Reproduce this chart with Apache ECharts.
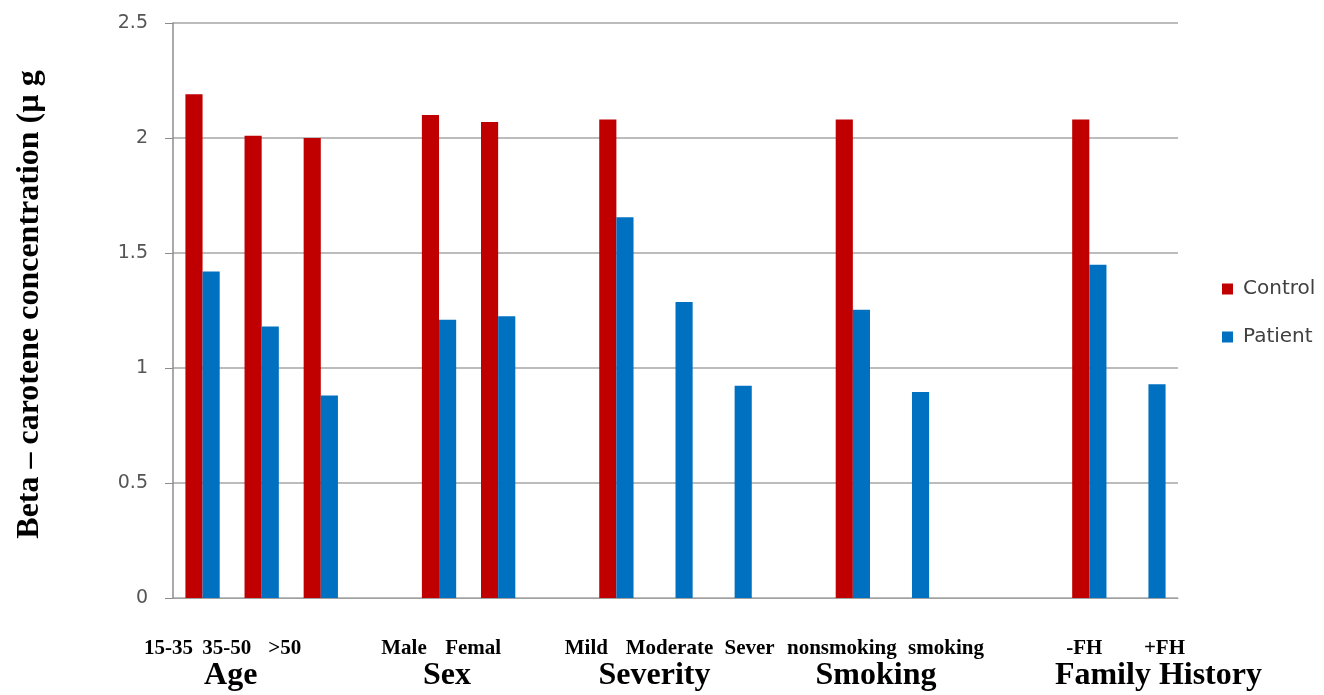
<!DOCTYPE html>
<html><head><meta charset="utf-8">
<script src="https://cdn.jsdelivr.net/npm/echarts@6/dist/echarts.min.js"></script>
<style>html,body{margin:0;padding:0;background:#fff}#c{width:1324px;height:695px}</style>
</head><body><div id="c"></div>
<script>
const categories = ['15-35','35-50','>50','','Male','Femal','','Mild','Moderate','Sever','','nonsmoking','smoking','','','-FH','+FH'];
const groupLabels = ['','Age','','','Sex','','','','Severity','','','','Smoking','','','','Family History'];
const control = [2.19,2.01,2.00,null,2.10,2.07,null,2.08,null,null,null,2.08,null,null,null,2.08,null];
const patient = [1.42,1.18,0.88,null,1.21,1.225,null,1.655,1.287,0.923,null,1.253,0.896,null,null,1.449,0.929];
const seriesNames = ['Control','Patient'];
const yAxisTitle = 'Beta \u2013 carotene concentration (\u00b5 g';

// label layout offsets (px, horizontal) — layout only
const catShift = [-34,-35,-36,0,-35,-25,0,-30,-6,15,0,-11,34,0,0,-5,16];
const groupShift = [0,-31,0,0,8,0,0,0,-21,0,0,0,-36,0,0,0,10];

function richFor(shifts, size){
  const r = {};
  shifts.forEach((s,i)=>{
    r['s'+i] = {
      fontFamily:'Liberation Serif', fontWeight:'bold', fontSize:size, color:'#000',
      padding: s<0 ? [0,-2*s,0,0] : [0,0,0,2*s]
    };
  });
  return r;
}

const chart = echarts.init(document.getElementById('c'));
chart.setOption({
  animation:false,
  backgroundColor:'#fff',
  grid:{left:173,right:146,top:23,bottom:97,containLabel:false,outerBoundsMode:'none'},
  legend:{
    orient:'vertical', left:1217, top:274, itemWidth:11, itemHeight:11, itemGap:28,
    icon:'rect',
    textStyle:{fontFamily:'DejaVu Sans', fontSize:20, color:'#404040', padding:[0,0,0,5]},
    data:seriesNames
  },
  xAxis:[{
    type:'category', data:categories,
    axisLine:{show:true, lineStyle:{color:'#a0a0a0', width:1}},
    axisTick:{show:false},
    axisLabel:{interval:0, margin:40,
      formatter:(v,i)=> v ? '{s'+i+'|'+v+'}' : '',
      rich:richFor(catShift,21)}
  },{
    type:'category', data:categories, position:'bottom',
    axisLine:{show:false}, axisTick:{show:false}, splitLine:{show:false},
    axisLabel:{interval:0, margin:62,
      formatter:(v,i)=> groupLabels[i] ? '{s'+i+'|'+groupLabels[i]+'}' : '',
      rich:richFor(groupShift,32)}
  }],
  yAxis:{
    type:'value', min:0, max:2.5, interval:0.5,
    name:yAxisTitle, nameLocation:'middle', nameGap:127,
    nameTextStyle:{fontFamily:'Liberation Serif', fontWeight:'bold', fontSize:32, color:'#000', padding:[0,0,0,12]},
    axisLine:{show:true, lineStyle:{color:'#8c8c8c', width:1.5}},
    axisTick:{show:true, length:8, lineStyle:{color:'#8c8c8c'}},
    axisLabel:{margin:25, fontFamily:'DejaVu Sans', fontSize:19, color:'#555'},
    splitLine:{show:true, lineStyle:{color:'#a6a6a6', width:1.5}}
  },
  series:[
    {name:seriesNames[0], type:'bar', data:control, itemStyle:{color:'#C00000'}, barGap:'0%', barCategoryGap:'42%'},
    {name:seriesNames[1], type:'bar', data:patient, itemStyle:{color:'#0070C0'}, barGap:'0%', barCategoryGap:'42%'}
  ]
});
</script></body></html>
